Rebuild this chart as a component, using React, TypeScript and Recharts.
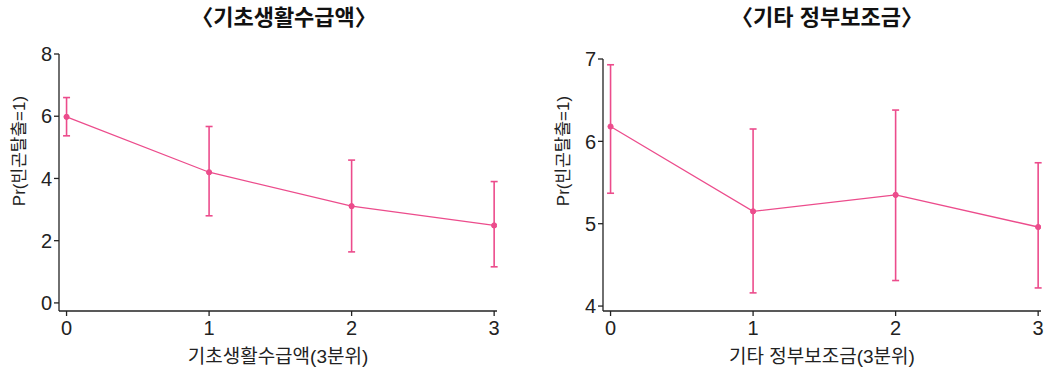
import React from 'react';
import { ComposedChart, Line, ErrorBar, XAxis, YAxis } from 'recharts';

// 3분위 categories (x positions)
const quantiles = [0, 1, 2, 3];

// 기초생활수급액: predicted Pr and 95% CI bounds
const basicValues = [5.98, 4.2, 3.11, 2.49];
const basicLow = [5.37, 2.8, 1.64, 1.16];
const basicHigh = [6.6, 5.67, 4.59, 3.9];
const basicTicks = [0, 2, 4, 6, 8];

// 기타 정부보조금
const otherValues = [6.18, 5.15, 5.35, 4.96];
const otherLow = [5.37, 4.16, 4.31, 4.22];
const otherHigh = [6.93, 6.15, 6.38, 5.74];
const otherTicks = [4, 5, 6, 7];

const PINK = '#ec4c8c';
const AXIS = '#222';
const FONT = "'Liberation Sans', 'Noto Sans CJK KR', sans-serif";
const TICK_SIZE = 20;

const buildRows = (values: number[], low: number[], high: number[]) =>
    quantiles.map((q, i) => ({
        q,
        value: values[i],
        err: [values[i] - low[i], high[i] - values[i]],
    }));

const XTick = (p: any) => (
    <text x={p.x} y={p.y} dy="0.72em" textAnchor="middle" fill="#222" fontSize={TICK_SIZE} fontFamily={FONT}>
        {p.payload.value}
    </text>
);

const YTick = (p: any) => (
    <text x={p.x} y={p.y} dy="0.36em" textAnchor="end" fill="#222" fontSize={TICK_SIZE} fontFamily={FONT}>
        {p.payload.value}
    </text>
);

type PanelProps = {
    left: number;
    title: string;
    xTitle: string;
    rows: any[];
    yDomain: [number, number];
    yTicks: number[];
    yAxisWidth: number;
    top: number;
    right: number;
    titleX: number;
    yLabelX: number;
};

function Panel(props: PanelProps) {
    const { left, title, xTitle, rows, yDomain, yTicks, yAxisWidth, top, right, titleX, yLabelX } = props;
    return (
        <div style={{ position: 'absolute', left, top: 0, width: 525, height: 370 }}>
            <div
                style={{
                    position: 'absolute',
                    left: titleX - 150,
                    top: 4,
                    width: 300,
                    textAlign: 'center',
                    fontFamily: FONT,
                    fontWeight: 700,
                    fontSize: 22,
                    color: '#111',
                    lineHeight: '28px',
                }}
            >
                {title}
            </div>
            <ComposedChart width={525} height={370} data={rows} margin={{ top, right, left: 0, bottom: 0 }}>
                <XAxis
                    dataKey="q"
                    type="number"
                    domain={[-0.053, 3.02]}
                    ticks={quantiles}
                    allowDataOverflow
                    height={59}
                    stroke={AXIS}
                    strokeWidth={1.3}
                    tickSize={5}
                    tickMargin={5}
                    tick={XTick}
                    label={{
                        value: xTitle,
                        position: 'insideBottom',
                        offset: 7,
                        fill: '#222',
                        fontSize: 19,
                        fontFamily: FONT,
                    }}
                />
                <YAxis
                    type="number"
                    domain={yDomain}
                    ticks={yTicks}
                    allowDataOverflow
                    width={yAxisWidth}
                    stroke={AXIS}
                    strokeWidth={1.3}
                    tickSize={5}
                    tickMargin={2}
                    tick={YTick}
                    label={{
                        value: 'Pr(빈곤탈출=1)',
                        content: () => (
                            <text
                                x={yLabelX}
                                y={151}
                                transform={`rotate(-90, ${yLabelX}, 151)`}
                                textAnchor="middle"
                                dominantBaseline="central"
                                fill="#222"
                                fontSize={17}
                                fontFamily={FONT}
                            >
                                Pr(빈곤탈출=1)
                            </text>
                        ),
                    }}
                />
                <Line
                    dataKey="value"
                    stroke={PINK}
                    strokeWidth={1.3}
                    dot={{ r: 2.6, fill: PINK, stroke: PINK, strokeWidth: 1 }}
                    activeDot={false}
                    isAnimationActive={false}
                >
                    <ErrorBar dataKey="err" direction="y" width={3.5} stroke={PINK} strokeWidth={1.6} />
                </Line>
            </ComposedChart>
        </div>
    );
}

export default function App() {
    return (
        <div style={{ position: 'absolute', left: 0, top: 0, width: 1050, height: 370, background: '#fff' }}>
            <Panel
                left={0}
                title="〈기초생활수급액〉"
                xTitle="기초생활수급액(3분위)"
                rows={buildRows(basicValues, basicLow, basicHigh)}
                yDomain={[-0.26, 8]}
                yTicks={basicTicks}
                yAxisWidth={59}
                top={54}
                right={28}
                titleX={284}
                yLabelX={19}
            />
            <Panel
                left={525}
                title="〈기타 정부보조금〉"
                xTitle="기타 정부보조금(3분위)"
                rows={buildRows(otherValues, otherLow, otherHigh)}
                yDomain={[3.94, 7]}
                yTicks={otherTicks}
                yAxisWidth={78}
                top={59}
                right={9}
                titleX={302}
                yLabelX={38}
            />
        </div>
    );
}
